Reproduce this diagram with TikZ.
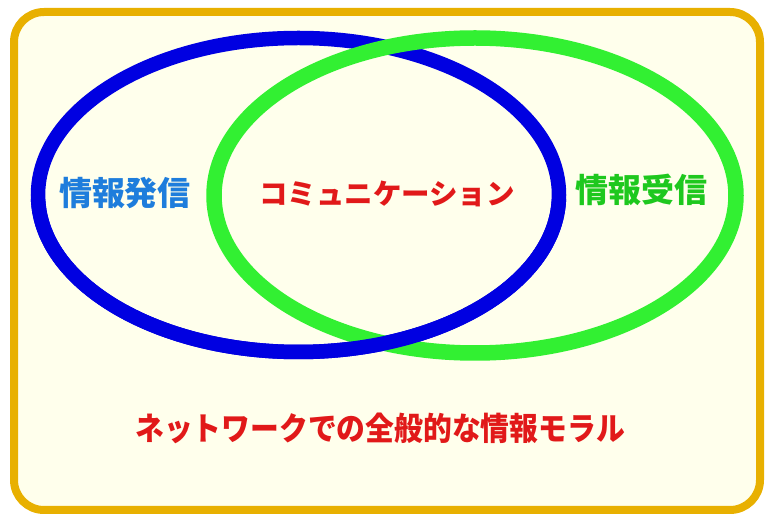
\documentclass[tikz,border=0pt]{standalone}
\usepackage{fontspec}
\newfontfamily\cjk{Noto Sans CJK JP}
\definecolor{frameorange}{RGB}{232,176,0}
\definecolor{cream}{RGB}{255,255,236}
\definecolor{ringblue}{RGB}{0,0,225}
\definecolor{ringgreen}{RGB}{50,240,50}
\definecolor{txtblue}{RGB}{30,125,220}
\definecolor{txtgreen}{RGB}{30,200,30}
\definecolor{txtred}{RGB}{225,25,25}
\tikzset{
  lbl/.style={font=\cjk\bfseries\fontsize{33}{33}\selectfont, inner sep=0pt},
  bluering/.style={draw=ringblue, line width=14.5pt},
  greenring/.style={draw=ringgreen, line width=15.5pt},
}
\begin{document}
\begin{tikzpicture}[x=1pt,y=-1pt]
\useasboundingbox (0,0) rectangle (769,518);
% frame
\draw[frameorange, line width=8pt, fill=cream, rounded corners=30pt] (14,12) rectangle (760,510);
% rings
\path[bluering] (298.5,195) ellipse [x radius=260.5, y radius=157];
\path[greenring] (475,195.5) ellipse [x radius=261, y radius=157.5];
\begin{scope}
  \clip (0,200) rectangle (769,518);
  \path[bluering] (298.5,195) ellipse [x radius=260.5, y radius=157];
\end{scope}
% labels
\node[lbl, text=txtblue] (send) at (125,193) {情報発信};
\node[lbl, text=txtred, font=\cjk\bfseries\fontsize{28.5}{28.5}\selectfont] (comm) at (387,194) {コミュニケーション};
\node[lbl, text=txtgreen] (recv) at (641,190) {情報受信};
\node[lbl, text=txtred, font=\cjk\bfseries\fontsize{32}{32}\selectfont] (moral) at (380,428) {\scalebox{0.9}[1]{ネットワークでの全般的な情報モラル}};
\end{tikzpicture}
\end{document}
